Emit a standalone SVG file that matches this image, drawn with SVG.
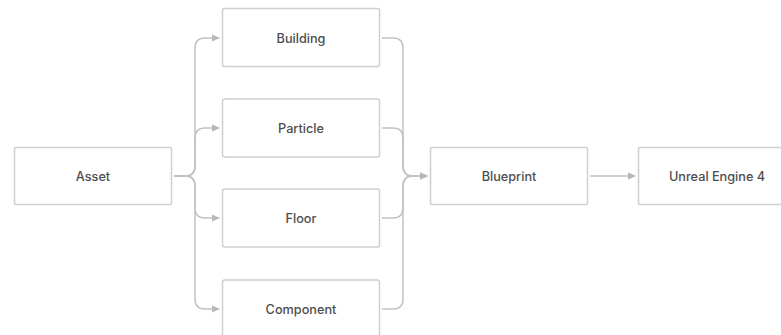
<svg xmlns="http://www.w3.org/2000/svg" width="781" height="335" viewBox="0 0 781 335">
<defs>
<style>
.box{fill:#fff;stroke:#cfcfcf;stroke-width:1.5}
.lbl{font-family:Inter,"Liberation Sans",sans-serif;font-size:12.7px;font-weight:500;fill:#4d4d4d;text-anchor:middle;dominant-baseline:central}
.edge{fill:none;stroke:#c2c2c2;stroke-width:1.5}
</style>
<marker id="ah" viewBox="0 0 8 8" refX="7" refY="4" markerWidth="8" markerHeight="8" markerUnits="userSpaceOnUse" orient="auto">
<path d="M0,0.5 L8,4 L0,7.5 Z" fill="#b8b8b8"/>
</marker>
</defs>
<rect width="781" height="335" fill="#fff"/>
<g id="connectors">
<path class="edge" marker-end="url(#ah)" d="M174,176 H185 Q195,176 195,166 V48 Q195,38 205,38 H219"/>
<path class="edge" marker-end="url(#ah)" d="M174,176 H185 Q195,176 195,166 V138 Q195,128 205,128 H219"/>
<path class="edge" marker-end="url(#ah)" d="M174,176 H185 Q195,176 195,186 V208 Q195,218 205,218 H219"/>
<path class="edge" marker-end="url(#ah)" d="M174,176 H185 Q195,176 195,186 V299 Q195,309 205,309 H219"/>
<path class="edge" marker-end="url(#ah)" d="M382,38 H393 Q403,38 403,48 V166 Q403,176 413,176 H427"/>
<path class="edge" marker-end="url(#ah)" d="M382,128 H393 Q403,128 403,138 V166 Q403,176 413,176 H427"/>
<path class="edge" marker-end="url(#ah)" d="M382,218 H393 Q403,218 403,208 V186 Q403,176 413,176 H427"/>
<path class="edge" marker-end="url(#ah)" d="M382,309 H393 Q403,309 403,299 V186 Q403,176 413,176 H427"/>
<path class="edge" marker-end="url(#ah)" d="M590,176 H635"/>
</g>
<g id="asset"><rect class="box" x="14.5" y="147.5" width="157" height="57" rx="2"/><text class="lbl" x="93" y="176">Asset</text></g>
<g id="building"><rect class="box" x="222.5" y="8.5" width="157" height="58" rx="2"/><text class="lbl" x="301" y="38">Building</text></g>
<g id="particle"><rect class="box" x="222.5" y="99" width="157" height="58" rx="2"/><text class="lbl" x="301" y="128">Particle</text></g>
<g id="floor"><rect class="box" x="222.5" y="189" width="157" height="58" rx="2"/><text class="lbl" x="301" y="218">Floor</text></g>
<g id="component"><rect class="box" x="222.5" y="280" width="157" height="58" rx="2"/><text class="lbl" x="301" y="309">Component</text></g>
<g id="blueprint"><rect class="box" x="430.5" y="147.5" width="157" height="57" rx="2"/><text class="lbl" x="509" y="176">Blueprint</text></g>
<g id="unreal"><rect class="box" x="638.5" y="147.5" width="157" height="57" rx="2"/><text class="lbl" x="717" y="176">Unreal Engine 4</text></g>
</svg>
